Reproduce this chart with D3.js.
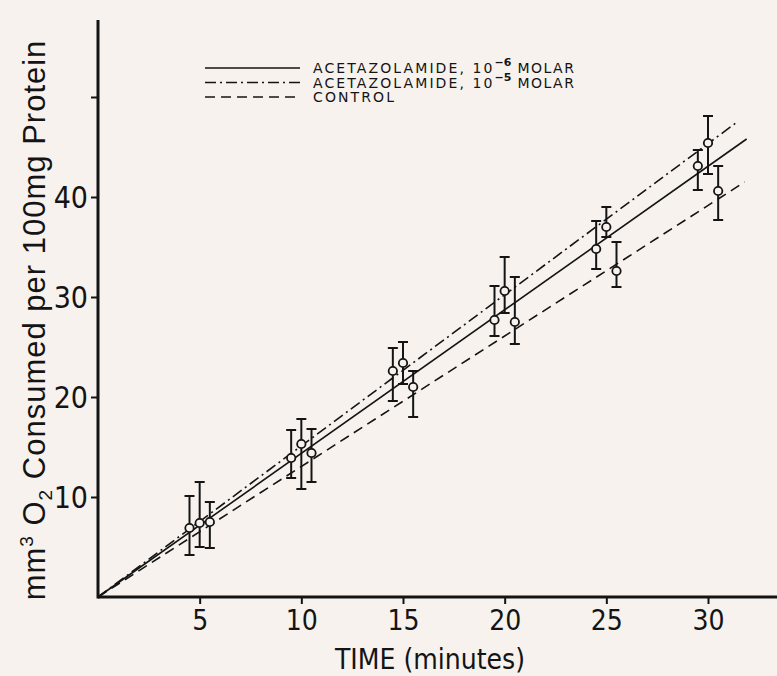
<!DOCTYPE html>
<html>
<head>
<meta charset="utf-8">
<script src="https://cdn.jsdelivr.net/npm/d3@7"></script>
<style>
  body { margin: 0; background: #f7f2ee; }
  svg { display: block; }
</style>
</head>
<body>
<script>
const width = 777;
const height = 676;

// sampling times (minutes); each series is drawn a little left / right of it
const times = [5, 10, 15, 20, 25, 30];

// acetazolamide 10^-6 molar (solid)
const acet6Mean = [6.9, 13.9, 22.6, 27.7, 34.8, 43.1];
const acet6Low = [4.2, 11.9, 19.6, 26.1, 32.8, 40.7];
const acet6High = [10.1, 16.7, 24.9, 31.1, 37.6, 44.7];

// acetazolamide 10^-5 molar (dash-dot)
const acet5Mean = [7.4, 15.3, 23.4, 30.6, 37.0, 45.4];
const acet5Low = [5.0, 10.8, 21.3, 28.4, 36.0, 42.3];
const acet5High = [11.5, 17.8, 25.5, 34.0, 39.0, 48.1];

// control (dashed)
const ctrlMean = [7.5, 14.4, 21.0, 27.5, 32.6, 40.6];
const ctrlLow = [4.9, 11.5, 18.0, 25.3, 31.0, 37.7];
const ctrlHigh = [9.5, 16.8, 22.6, 32.0, 35.5, 43.1];

// fitted lines, from the origin to where they stop
const acet6Line = [[0, 0], [31.9, 45.8]];
const acet5Line = [[0, 0], [31.5, 47.6]];
const ctrlLine = [[0, 0], [31.8, 41.5]];

const xTicks = [5, 10, 15, 20, 25, 30];
const yTicks = [10, 20, 30, 40, 50];
const yTickLabels = ["10", "20", "30", "40", ""];

const series = [
  { name: "ACETAZOLAMIDE, 10", exp: "−6", mean: acet6Mean, low: acet6Low, high: acet6High, line: acet6Line, shift: -0.5, dash: null },
  { name: "ACETAZOLAMIDE, 10", exp: "−5", mean: acet5Mean, low: acet5Low, high: acet5High, line: acet5Line, shift: 0, dash: "11,4,2,4" },
  { name: "CONTROL", exp: null, mean: ctrlMean, low: ctrlLow, high: ctrlHigh, line: ctrlLine, shift: 0.5, dash: "10,6" }
];

const svg = d3.select("body")
  .append("svg")
  .attr("width", width)
  .attr("height", height)
  .style("background-color", "#f7f2ee");

const x = d3.scaleLinear().domain([0, 30]).range([98, 708]);
const y = d3.scaleLinear().domain([0, 50]).range([597, 97]);

const ink = "#141414";
const font = "'Liberation Sans Narrow', 'DejaVu Sans Condensed', sans-serif";

// axes
svg.append("g")
  .attr("transform", `translate(0,${y(0)})`)
  .call(d3.axisBottom(x).tickValues(xTicks).tickSize(7).tickPadding(6))
  .call(g => g.select(".domain").remove())
  .call(g => g.selectAll("line").attr("stroke", ink).attr("stroke-width", 2))
  .call(g => g.selectAll("text").attr("fill", ink).style("font-family", font).style("font-size", "28px"));

svg.append("g")
  .attr("transform", `translate(${x(0)},0)`)
  .call(d3.axisLeft(y).tickValues(yTicks).tickFormat((d, i) => yTickLabels[i]).tickSize(7).tickPadding(3))
  .call(g => g.select(".domain").remove())
  .call(g => g.selectAll("line").attr("stroke", ink).attr("stroke-width", 2))
  .call(g => g.selectAll("text").attr("fill", ink).attr("dy", "0.36em").style("font-family", font).style("font-size", "30px"));

svg.append("line")
  .attr("x1", x(0)).attr("x2", width)
  .attr("y1", y(0)).attr("y2", y(0))
  .attr("stroke", ink).attr("stroke-width", 3);

svg.append("line")
  .attr("x1", x(0)).attr("x2", x(0))
  .attr("y1", y(0) + 1.5).attr("y2", 20)
  .attr("stroke", ink).attr("stroke-width", 3);

// fitted lines
const lineGen = d3.line().x(d => x(d[0])).y(d => y(d[1]));
svg.selectAll(".fit")
  .data(series)
  .join("path")
  .attr("class", "fit")
  .attr("d", d => lineGen(d.line))
  .attr("fill", "none")
  .attr("stroke", ink)
  .attr("stroke-width", 1.6)
  .attr("stroke-dasharray", d => d.dash);

// error bars and points
series.forEach(s => {
  const pts = times.map((t, i) => ({ t: t + s.shift, m: s.mean[i], lo: s.low[i], hi: s.high[i] }));
  const g = svg.append("g");
  g.selectAll(".bar").data(pts).join("line")
    .attr("x1", d => x(d.t)).attr("x2", d => x(d.t))
    .attr("y1", d => y(d.lo)).attr("y2", d => y(d.hi))
    .attr("stroke", ink).attr("stroke-width", 2);
  g.selectAll(".capTop").data(pts).join("line")
    .attr("x1", d => x(d.t) - 5).attr("x2", d => x(d.t) + 5)
    .attr("y1", d => y(d.hi)).attr("y2", d => y(d.hi))
    .attr("stroke", ink).attr("stroke-width", 2);
  g.selectAll(".capBot").data(pts).join("line")
    .attr("x1", d => x(d.t) - 5).attr("x2", d => x(d.t) + 5)
    .attr("y1", d => y(d.lo)).attr("y2", d => y(d.lo))
    .attr("stroke", ink).attr("stroke-width", 2);
  g.selectAll("circle").data(pts).join("circle")
    .attr("cx", d => x(d.t)).attr("cy", d => y(d.m))
    .attr("r", 4.2)
    .attr("fill", "#f7f2ee")
    .attr("stroke", ink).attr("stroke-width", 1.8);
});

// legend
const legend = svg.append("g");
series.forEach((s, i) => {
  const ly = 68 + i * 14.5;
  legend.append("line")
    .attr("x1", 205).attr("x2", 300)
    .attr("y1", ly).attr("y2", ly)
    .attr("stroke", ink).attr("stroke-width", 1.6)
    .attr("stroke-dasharray", s.dash);
  const t = legend.append("text")
    .attr("x", 313).attr("y", ly + 5)
    .attr("fill", ink)
    .style("font-family", "'DejaVu Sans', sans-serif")
    .style("font-size", "14px")
    .style("letter-spacing", "2.1px")
    .text(s.name);
  if (s.exp) {
    t.append("tspan").attr("dy", -7).style("font-size", "11px").style("font-weight", "bold").style("letter-spacing", "0px").text(s.exp);
    t.append("tspan").attr("dy", 7).style("letter-spacing", "1.5px").text(" MOLAR");
  }
});

// axis titles
svg.append("text")
  .attr("x", 430).attr("y", 669)
  .attr("text-anchor", "middle")
  .attr("fill", ink)
  .style("font-family", font)
  .style("font-size", "28px")
  .text("TIME (minutes)");

const yl = svg.append("text")
  .attr("transform", "translate(45,320) rotate(-90)")
  .attr("text-anchor", "middle")
  .attr("fill", ink)
  .style("font-family", "'Liberation Sans', sans-serif")
  .style("font-size", "31px")
  .style("letter-spacing", "1px");
yl.append("tspan").text("mm");
yl.append("tspan").attr("dy", -12).style("font-size", "19px").text("3");
yl.append("tspan").attr("dy", 12).text(" O");
yl.append("tspan").attr("dy", 7).style("font-size", "19px").text("2");
yl.append("tspan").attr("dy", -7).text(" Consumed per 100mg Protein");
</script>
</body>
</html>
